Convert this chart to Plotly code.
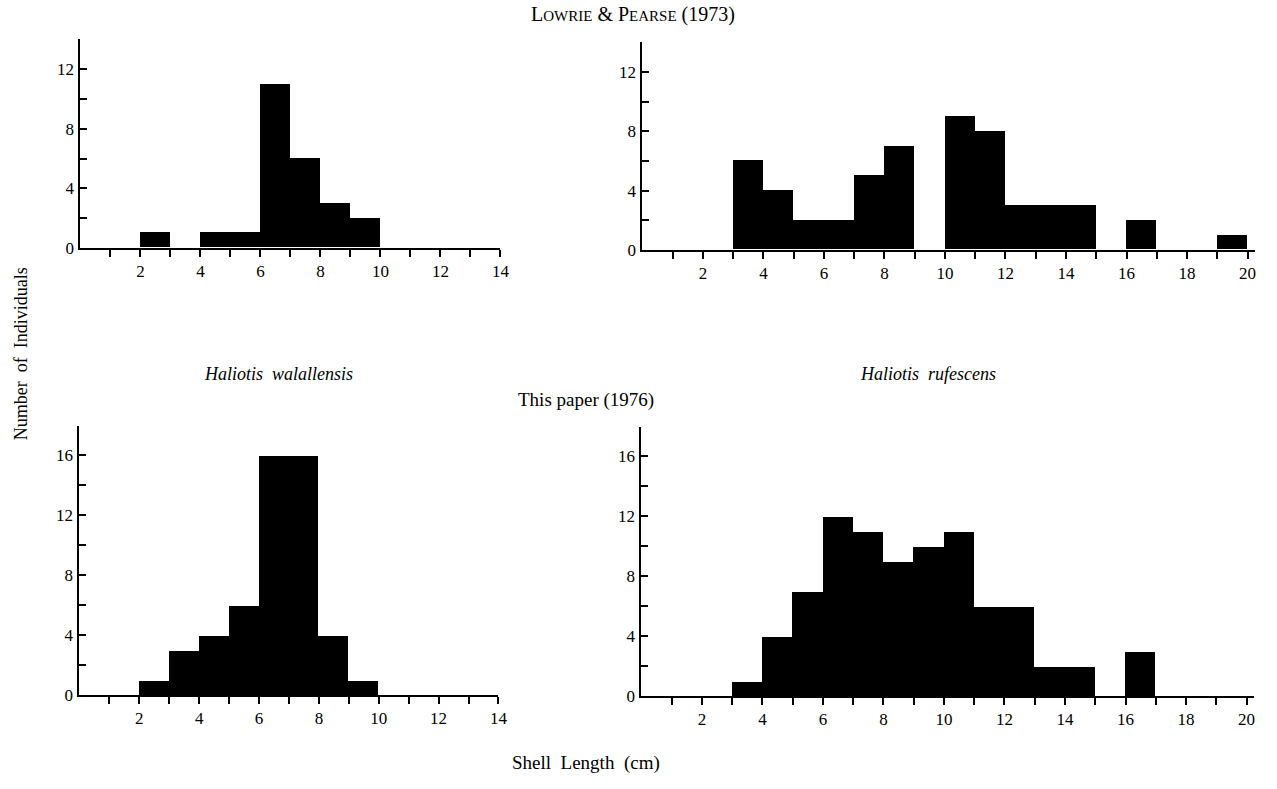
import plotly.graph_objects as go

# ---- data (bin left edges, 1 cm bins) ----
tl_left = list(range(0, 14))
tl_counts = [0, 0, 1, 0, 1, 1, 11, 6, 3, 2, 0, 0, 0, 0]

tr_left = list(range(0, 20))
tr_counts = [0, 0, 0, 6, 4, 2, 2, 5, 7, 0, 9, 8, 3, 3, 3, 0, 2, 0, 0, 1]

bl_left = list(range(0, 14))
bl_counts = [0, 0, 1, 3, 4, 6, 16, 16, 4, 1, 0, 0, 0, 0]

br_left = list(range(0, 20))
br_counts = [0, 0, 0, 1, 4, 7, 12, 11, 9, 10, 11, 6, 6, 2, 2, 0, 3, 0, 0, 0]

x_ticks_14 = list(range(1, 15))
x_ticks_20 = list(range(1, 21))
y_ticks_top = [0, 2, 4, 6, 8, 10, 12]
y_ticks_bot = [0, 2, 4, 6, 8, 10, 12, 14, 16, 18]
y_labels_top = ["0", "4", "8", "12"]
y_labels_bot = ["0", "4", "8", "12", "16"]

title_top = ("L<span style='font-size:15px'>OWRIE</span> &amp; "
             "P<span style='font-size:15px'>EARSE</span> (1973)")
title_bottom = "This paper (1976)"
species_left = "<i>Haliotis&nbsp; walallensis</i>"
species_right = "<i>Haliotis&nbsp; rufescens</i>"
x_title = "Shell&nbsp; Length&nbsp; (cm)"
y_title = "Number&nbsp; of&nbsp; Individuals"

W, H = 1277, 789
FONT = "Liberation Serif"

fig = go.Figure()

panels = [
    ("x", "y", tl_left, tl_counts),
    ("x2", "y2", tr_left, tr_counts),
    ("x3", "y3", bl_left, bl_counts),
    ("x4", "y4", br_left, br_counts),
]
for xa, ya, left, counts in panels:
    fig.add_trace(go.Bar(x=left, y=counts, width=1, offset=0,
                         marker=dict(color="black", line=dict(width=0)),
                         xaxis=xa, yaxis=ya, showlegend=False, hoverinfo="x+y"))


def px_dom_x(a, b):
    return [a / W, b / W]


def px_dom_y(top, bottom):
    return [1 - bottom / H, 1 - top / H]


def xaxis(dom, rng, ticks, anchor):
    lab = [str(t) if t % 2 == 0 else "" for t in ticks]
    return dict(domain=dom, range=rng, anchor=anchor, showline=True, linecolor="black",
                linewidth=2, showgrid=False, zeroline=False, tickmode="array",
                tickvals=ticks, ticktext=lab, ticks="outside", ticklen=7, tickwidth=1.5,
                tickcolor="black", tickfont=dict(family=FONT, size=17, color="black"),
                fixedrange=True)


def yaxis(dom, rng, ticks, labels, anchor):
    lab = [str(t) if str(t) in labels else "" for t in ticks]
    return dict(domain=dom, range=rng, anchor=anchor, showline=True, linecolor="black",
                linewidth=2, showgrid=False, zeroline=False, tickmode="array",
                tickvals=ticks, ticktext=lab, ticks="inside", ticklen=7, tickwidth=1.5,
                tickcolor="black", ticklabelstandoff=1,
                tickfont=dict(family=FONT, size=17, color="black"), fixedrange=True)


fig.update_layout(
    width=W, height=H, margin=dict(l=0, r=0, t=0, b=0),
    paper_bgcolor="white", plot_bgcolor="white", bargap=0,
    xaxis=xaxis(px_dom_x(81, 504), [0, 14], x_ticks_14, "y"),
    yaxis=yaxis(px_dom_y(40, 251), [0, 14], y_ticks_top, y_labels_top, "x"),
    xaxis2=xaxis(px_dom_x(647, 1264), [0, 20.25], x_ticks_20, "y2"),
    yaxis2=yaxis(px_dom_y(43, 253), [0, 14], y_ticks_top, y_labels_top, "x2"),
    xaxis3=xaxis(px_dom_x(80, 502), [0, 14], x_ticks_14, "y3"),
    yaxis3=yaxis(px_dom_y(431, 704), [0, 18], y_ticks_bot, y_labels_bot, "x3"),
    xaxis4=xaxis(px_dom_x(646, 1263), [0, 20.25], x_ticks_20, "y4"),
    yaxis4=yaxis(px_dom_y(432, 705), [0, 18], y_ticks_bot, y_labels_bot, "x4"),
)


def note(text, xpx, ypx, size=15, angle=0):
    fig.add_annotation(text=text, x=xpx / W, y=1 - ypx / H,
                       xref="paper", yref="paper",
                       showarrow=False, xanchor="center", yanchor="middle", textangle=angle,
                       font=dict(family=FONT, size=size, color="black"))


note(title_top, 637, 15, size=20)
note(species_left, 280, 379, size=18)
note(species_right, 935, 379, size=18)
note(title_bottom, 590, 405, size=19)
note(x_title, 590, 773, size=19)
note(y_title, 22, 358, size=18, angle=-90)

# remove the default page margin so the figure sits at the window's corner
fig.write_html("out.html", config={"displayModeBar": False},
               post_script="document.body.style.margin='0';")
